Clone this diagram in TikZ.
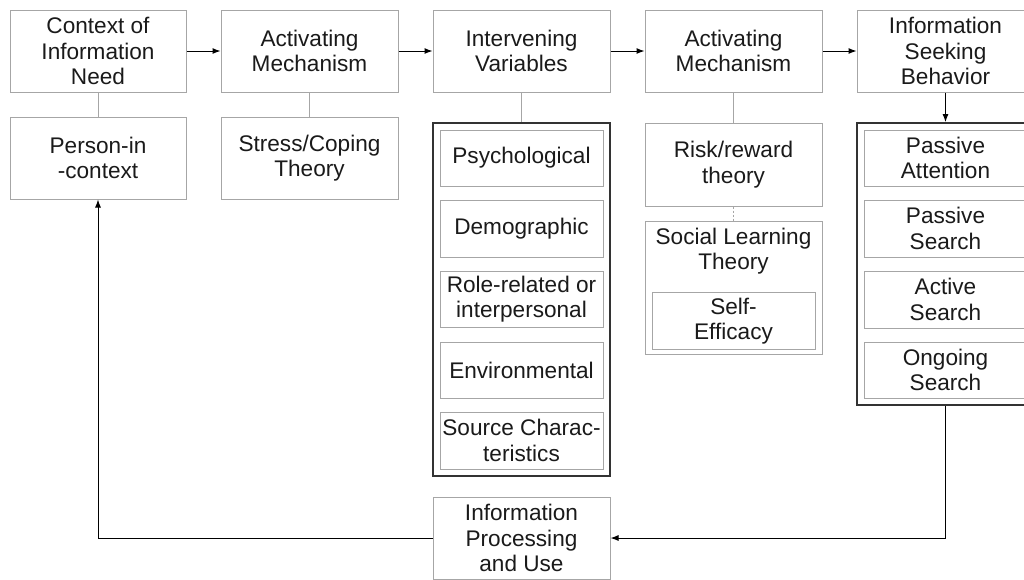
\documentclass[tikz,border=0pt]{standalone}
\usepackage{fontspec}
\setmainfont{Liberation Sans}
\usetikzlibrary{arrows.meta}
\definecolor{boxgray}{HTML}{A6A6A6}
\definecolor{darkline}{HTML}{333333}
\definecolor{txt}{HTML}{1A1A1A}
\tikzset{
  label/.style={align=center, inner sep=0pt, text=txt, font=\fontsize{22.6}{25.5}\selectfont},
  box/.style={label, draw=boxgray, line width=1pt, fill=white},
  container/.style={draw=darkline, line width=1.8pt, fill=white, inner sep=0pt},
  link/.style={draw=boxgray, line width=1pt},
  flow/.style={draw=black, line width=1pt, -{Latex[length=8pt,width=6pt]}},
}
\begin{document}
\begin{tikzpicture}[x=1pt,y=-1pt]
\useasboundingbox (0,0) rectangle (1024,579);
\clip (0,0) rectangle (1024,579);
% top row
\node[box, minimum width=176pt, minimum height=82pt] (ctx) at (98,51) {Context of\\Information\\Need};
\node[box, minimum width=177pt, minimum height=82pt] (act1) at (309.5,51) {Activating\\Mechanism};
\node[box, minimum width=177pt, minimum height=82pt] (intv) at (521.5,51) {Intervening\\Variables};
\node[box, minimum width=177pt, minimum height=82pt] (act2) at (733.5,51) {Activating\\Mechanism};
\node[box, minimum width=177pt, minimum height=82pt] (isb) at (945.5,51) {Information\\Seeking\\Behavior};
% second row
\node[box, minimum width=176pt, minimum height=82pt] (pic) at (98,158) {Person-in\\-context};
\node[box, minimum width=177pt, minimum height=82pt] (stress) at (309.5,158) {Stress/Coping\\Theory};
% intervening variables container
\node[container, minimum width=177pt, minimum height=353pt] (intvC) at (521.5,299.5) {};
\node[box, minimum width=163pt, minimum height=56pt] (psy) at (521.5,158) {Psychological};
\node[box, minimum width=163pt, minimum height=57pt] (dem) at (521.5,228.5) {Demographic};
\node[box, minimum width=163pt, minimum height=56pt] (role) at (521.5,299) {Role-related or\\interpersonal};
\node[box, minimum width=163pt, minimum height=56pt] (env) at (521.5,370) {Environmental};
\node[box, minimum width=163pt, minimum height=57pt] (src) at (521.5,440.5) {Source Charac-\\teristics};
% second activating mechanism
\node[box, minimum width=177pt, minimum height=83pt] (risk) at (733.5,164.5) {Risk/reward\\theory};
\node[box, minimum width=177pt, minimum height=133pt] (social) at (733.5,287.5) {};
\node[label] (socialt) at (733.5,251) {Social Learning\\Theory};
\node[box, minimum width=163pt, minimum height=57pt] (self) at (733.5,321) {Self-\\Efficacy};
% information seeking behavior container
\node[container, minimum width=177pt, minimum height=282pt] (isbC) at (945.5,264) {};
\node[box, minimum width=163pt, minimum height=56pt] (pa) at (945.5,158) {Passive\\Attention};
\node[box, minimum width=163pt, minimum height=57pt] (ps) at (945.5,228.5) {Passive\\Search};
\node[box, minimum width=163pt, minimum height=57pt] (as) at (945.5,299.5) {Active\\Search};
\node[box, minimum width=163pt, minimum height=56pt] (os) at (945.5,370) {Ongoing\\Search};
% bottom
\node[box, minimum width=177pt, minimum height=82pt] (ipu) at (521.5,538) {Information\\Processing\\and Use};
% connectors
\draw[flow] (ctx.east) -- (act1.west);
\draw[flow] (act1.east) -- (intv.west);
\draw[flow] (intv.east) -- (act2.west);
\draw[flow] (act2.east) -- (isb.west);
\draw[flow] (isb.south) -- (isbC.north);
\draw[link] (ctx.south) -- (pic.north);
\draw[link] (act1.south) -- (stress.north);
\draw[link] (intv.south) -- (intvC.north);
\draw[link] (act2.south) -- (risk.north);
\draw[link, dash pattern=on 2pt off 2pt] (risk.south) -- (social.north);
\draw[flow] (isbC.south) |- (ipu.east);
\draw[flow] (ipu.west) -| (pic.south);
\end{tikzpicture}
\end{document}
